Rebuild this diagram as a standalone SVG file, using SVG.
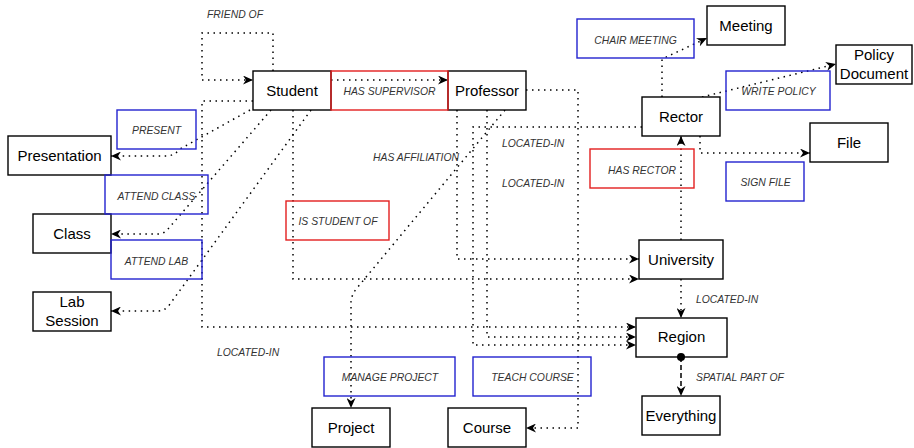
<svg xmlns="http://www.w3.org/2000/svg" width="914" height="448" viewBox="0 0 914 448">
<defs>
<marker id="arr" markerWidth="10" markerHeight="9" refX="10" refY="4.5" orient="auto" markerUnits="userSpaceOnUse"><path d="M0,0 L10,4.5 L0,9 L3,4.5 Z" fill="#000"/></marker>
<style>
.n rect{fill:#fff;stroke:#000;stroke-width:1.4}
.n text{font-family:"Liberation Sans",Arial,sans-serif;font-size:15px;fill:#000;text-anchor:middle}
.r rect{fill:none;stroke:#e31e1e;stroke-width:1.4}
.b rect{fill:none;stroke:#2323cf;stroke-width:1.4}
.l{font-family:"Liberation Sans",Arial,sans-serif;font-size:10.4px;font-style:italic;fill:#333}
.lc{text-anchor:middle}
.e path{fill:none;stroke:#000;stroke-width:1.5;stroke-dasharray:1.5 4.5}
.e path.a{marker-end:url(#arr)}
.e path.d{stroke-dasharray:5 3}
</style>
</defs>
<rect width="914" height="448" fill="#fff"/>
<g id="connectors" class="e">
<path class="a" d="M273,71 L273,33 L202,33 L202,80 L253,80"/>
<path class="a" d="M331,80 L448,80"/>
<path class="a" d="M250,110 L180,149 Q174,156 166,156 L111,156"/>
<path class="a" d="M271,110 L168,229 Q164,234 158,234 L111,234"/>
<path class="a" d="M311,110 L170,304 Q165,311 158,311 L111,311"/>
<path class="a" d="M253,101 L202,101 L202,327 L636,327"/>
<path class="a" d="M293,110 L293,279 L639,279"/>
<path class="a" d="M457,110 L457,259 L639,259"/>
<path class="a" d="M487,110 L487,337 L636,337"/>
<path class="a" d="M642,127 L473,127 L473,345 L636,345"/>
<path class="a" d="M505,110 L357,288 Q351,295 351,303 L351,408"/>
<path class="a" d="M526,90 L578,90 L578,428 L526,428"/>
<path class="a" d="M662,97 L662,59 L707,38"/>
<path class="a" d="M702,97 L836,64"/>
<path class="a" d="M700,136 L700,153 L810,153"/>
<path class="a" d="M681,240 L681,136"/>
<path class="a" d="M681,279 L681,318"/>
<path class="a d" d="M681,357 L681,396"/>
</g>
<g id="student" class="n"><rect x="253" y="71" width="78" height="39"/><text x="292" y="96">Student</text></g>
<g id="professor" class="n"><rect x="448" y="71" width="78" height="39"/><text x="487" y="96">Professor</text></g>
<g id="presentation" class="n"><rect x="8" y="136" width="103" height="39"/><text x="59.5" y="161">Presentation</text></g>
<g id="class" class="n"><rect x="33" y="214" width="78" height="39"/><text x="72" y="239">Class</text></g>
<g id="labsession" class="n"><rect x="33" y="292" width="78" height="39"/><text x="72" y="307">Lab</text><text x="72" y="326">Session</text></g>
<g id="rector" class="n"><rect x="642" y="97" width="78" height="39"/><text x="681" y="122">Rector</text></g>
<g id="meeting" class="n"><rect x="707" y="6" width="78" height="39"/><text x="746" y="31">Meeting</text></g>
<g id="policydocument" class="n"><rect x="836" y="45" width="76" height="39"/><text x="874" y="60">Policy</text><text x="874" y="79">Document</text></g>
<g id="file" class="n"><rect x="810" y="123" width="78" height="39"/><text x="849" y="148">File</text></g>
<g id="university" class="n"><rect x="639" y="240" width="84" height="39"/><text x="681" y="265">University</text></g>
<g id="region" class="n"><rect x="636" y="318" width="91" height="39"/><text x="681.5" y="342">Region</text></g>
<g id="everything" class="n"><rect x="642" y="396" width="78" height="39"/><text x="681" y="421">Everything</text></g>
<g id="project" class="n"><rect x="312" y="408" width="78" height="39"/><text x="351" y="433">Project</text></g>
<g id="course" class="n"><rect x="448" y="408" width="78" height="39"/><text x="487" y="433">Course</text></g>
<circle cx="681" cy="357" r="4" fill="#000"/>
<g id="lbl-has-supervisor" class="r"><rect x="331" y="71" width="117" height="39"/><text class="l lc" x="389.5" y="95">HAS SUPERVISOR</text></g>
<g id="lbl-present" class="b"><rect x="117" y="110" width="79" height="39"/><text class="l lc" x="156.5" y="134">PRESENT</text></g>
<g id="lbl-attend-class" class="b"><rect x="105" y="175" width="103" height="39"/><text class="l lc" x="156.5" y="199.5">ATTEND CLASS</text></g>
<g id="lbl-attend-lab" class="b"><rect x="111" y="240" width="91" height="39"/><text class="l lc" x="156.5" y="264.5">ATTEND LAB</text></g>
<g id="lbl-is-student-of" class="r"><rect x="286" y="201" width="103" height="39"/><text class="l lc" x="338" y="225">IS STUDENT OF</text></g>
<g id="lbl-chair-meeting" class="b"><rect x="577" y="19" width="117" height="39"/><text class="l lc" x="635.5" y="43.5">CHAIR MEETING</text></g>
<g id="lbl-write-policy" class="b"><rect x="726" y="71" width="104" height="39"/><text class="l lc" x="778.5" y="95">WRITE POLICY</text></g>
<g id="lbl-has-rector" class="r"><rect x="590" y="149" width="104" height="39"/><text class="l lc" x="642" y="173.5">HAS RECTOR</text></g>
<g id="lbl-sign-file" class="b"><rect x="726" y="162" width="78" height="39"/><text class="l lc" x="765.5" y="186">SIGN FILE</text></g>
<g id="lbl-manage-project" class="b"><rect x="324" y="357" width="131" height="39"/><text class="l lc" x="390" y="380.5">MANAGE PROJECT</text></g>
<g id="lbl-teach-course" class="b"><rect x="473" y="357" width="118" height="39"/><text class="l lc" x="532.5" y="380.5">TEACH COURSE</text></g>
<g id="free-labels">
<text class="l" x="207" y="17.5">FRIEND OF</text>
<text class="l" x="373" y="160.5">HAS AFFILIATION</text>
<text class="l" x="502" y="146.5">LOCATED-IN</text>
<text class="l" x="502" y="186.5">LOCATED-IN</text>
<text class="l" x="696" y="302.5">LOCATED-IN</text>
<text class="l" x="696" y="380.5">SPATIAL PART OF</text>
<text class="l" x="217" y="355.5">LOCATED-IN</text>
</g>
</svg>
